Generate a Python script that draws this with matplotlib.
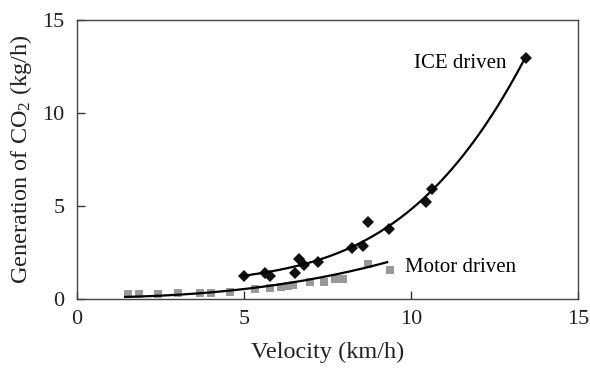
import numpy as np
import matplotlib

matplotlib.use("Agg")
import matplotlib.pyplot as plt

# ICE driven (diamonds)
ice_v = [4.99, 5.62, 5.79, 6.54, 6.66, 6.81, 7.21, 8.24, 8.56, 8.72, 9.35, 10.46, 10.62, 13.44]
ice_co2 = [1.24, 1.41, 1.24, 1.41, 2.17, 1.83, 2.01, 2.76, 2.87, 4.16, 3.75, 5.20, 5.93, 12.97]

# Motor driven (squares)
motor_v = [1.54, 1.86, 2.42, 3.02, 3.67, 4.02, 4.59, 5.32, 5.79, 6.12, 6.32, 6.47,
           6.97, 7.39, 7.74, 7.97, 8.72, 9.37]
motor_co2 = [0.25, 0.25, 0.27, 0.31, 0.31, 0.31, 0.36, 0.54, 0.57, 0.66, 0.70, 0.75,
             0.93, 0.93, 1.07, 1.07, 1.86, 1.56]

# trend curves
ice_trend_v = [4.99, 6.09, 7.19, 8.19, 9.29, 10.19, 10.59, 11.69, 12.69, 13.39]
ice_trend_co2 = [1.20, 1.65, 2.13, 2.78, 3.80, 4.96, 5.80, 8.19, 10.70, 12.81]
motor_trend_v = [1.44, 2.99, 4.49, 5.59, 6.59, 7.59, 8.59, 9.29]
motor_trend_co2 = [0.12, 0.21, 0.45, 0.66, 0.97, 1.24, 1.65, 2.00]

plt.rcParams["font.family"] = ["Liberation Serif", "DejaVu Serif"]
plt.rcParams["mathtext.fontset"] = "custom"
plt.rcParams["mathtext.rm"] = "Liberation Serif"
plt.rcParams["mathtext.it"] = "Liberation Serif:italic"


def trend(x, y, deg=3):
    # smooth polynomial through the trend points
    coef = np.polyfit(x, y, deg)
    xs = np.linspace(min(x), max(x), 200)
    return xs, np.polyval(coef, xs)


fig = plt.figure(figsize=(5.9, 3.79), dpi=100)
ax = fig.add_axes([0.1305, 0.211, 0.849, 0.735])

ax.plot(motor_v, motor_co2, "s", color="#999999", markersize=5.5, markeredgewidth=0)
ax.plot(ice_v, ice_co2, "D", color="#111111", markersize=6, markeredgewidth=0)

xs, ys = trend(ice_trend_v, ice_trend_co2)
ax.plot(xs, ys, color="black", linewidth=1.6)
xs, ys = trend(motor_trend_v, motor_trend_co2)
ax.plot(xs, ys, color="black", linewidth=1.6)

ax.text(10.1, 12.7, "ICE driven", fontsize=15, va="center", ha="left")
ax.text(9.82, 1.72, "Motor driven", fontsize=15, va="center", ha="left")

ax.set_xlim(0, 15)
ax.set_ylim(0, 15)
ax.set_xticks([0, 5, 10, 15])
ax.set_yticks([0, 5, 10, 15])
ax.tick_params(direction="in", length=6, width=1, labelsize=16, colors="#333333",
               labelcolor="#222222")
ax.tick_params(axis="x", pad=8)
ax.tick_params(axis="y", pad=9)
for s in ax.spines.values():
    s.set_color("#444444")
    s.set_linewidth(1.0)

ax.set_xlabel("Velocity (km/h)", fontsize=17.5, color="#222222", labelpad=9)
ax.set_ylabel("Generation of CO$_2$ (kg/h)", fontsize=17.5, color="#222222", labelpad=6)

fig.savefig("out.png", dpi=100)
